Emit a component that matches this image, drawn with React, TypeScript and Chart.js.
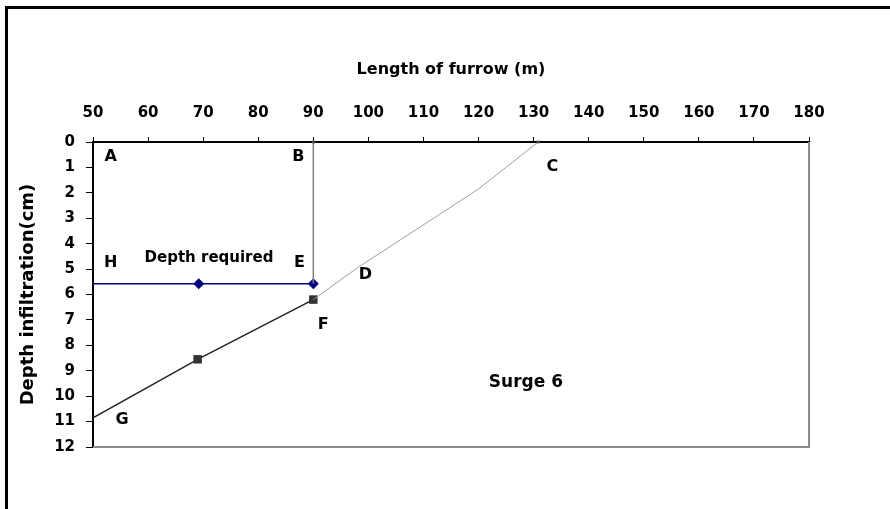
import React, { useEffect, useRef } from "react";
import { Chart, registerables } from "chart.js";

Chart.register(...registerables);

// X axis: length of furrow (m); Y axis: depth of infiltration (cm, downward)
const xTicksMin = 50;
const xTicksMax = 180;
const xTickStep = 10;
const yTicksMin = 0;
const yTicksMax = 12;
const yTickStep = 1;

// Line G-F (advance, black, square markers)
const advanceX = [50, 69, 90];
const advanceY = [10.85, 8.55, 6.2];

// Line F-D-C (grey)
const recessX = [90, 98, 109, 120, 130.8];
const recessY = [6.2, 4.95, 3.4, 1.85, 0];

// Vertical line B-E
const verticalX = [90, 90];
const verticalY = [0, 5.58];

// Depth required H-E (navy, diamond markers)
const requiredX = [50, 69.2, 90];
const requiredY = [5.58, 5.58, 5.58];

// Text annotations
const annotTexts = ["A", "B", "C", "D", "E", "F", "G", "H", "Depth required", "Surge 6"];
const annotX = [53.2, 87.3, 133.4, 99.45, 87.5, 91.8, 55.3, 53.2, 71.06, 128.6];
const annotY = [0.57, 0.57, 0.98, 5.22, 4.76, 7.19, 10.95, 4.76, 4.56, 9.46];
const annotSizes = [16, 16, 16, 16, 16, 16, 16, 16, 15, 17];

const xTitle = "Length of furrow (m)";
const yTitle = "Depth infiltration(cm)";

const FONT = "'DejaVu Sans', sans-serif";

function pts(xs: number[], ys: number[]) {
  return xs.map((x, i) => ({ x, y: ys[i] }));
}

const framePlugin = {
  id: "frameAndText",
  beforeDraw(chart: any) {
    const ctx = chart.ctx;
    ctx.save();
    ctx.fillStyle = "#ffffff";
    ctx.fillRect(0, 0, chart.width, chart.height);
    ctx.fillStyle = "#000000";
    ctx.fillRect(5, 6, 3, chart.height - 6);
    ctx.fillRect(5, 6, chart.width - 5, 3);
    ctx.restore();
  },
  afterDraw(chart: any) {
    const ctx = chart.ctx;
    const a = chart.chartArea;
    const xs = chart.scales.x;
    const ys = chart.scales.y;
    ctx.save();
    // right & bottom plot borders (grey)
    ctx.strokeStyle = "#8c8c8c";
    ctx.lineWidth = 2;
    ctx.beginPath();
    ctx.moveTo(a.right, a.top);
    ctx.lineTo(a.right, a.bottom);
    ctx.lineTo(a.left, a.bottom);
    ctx.stroke();
    // annotations
    ctx.fillStyle = "#000000";
    ctx.textAlign = "center";
    ctx.textBaseline = "middle";
    annotTexts.forEach((t, i) => {
      ctx.font = `bold ${annotSizes[i]}px ${FONT}`;
      ctx.fillText(t, xs.getPixelForValue(annotX[i]), ys.getPixelForValue(annotY[i]));
    });
    ctx.restore();
  },
};

export default function App() {
  const ref = useRef<HTMLCanvasElement | null>(null);
  useEffect(() => {
    if (!ref.current) return;
    const chart = new Chart(ref.current, {
      type: "scatter",
      data: {
        datasets: [
          {
            label: "B-E",
            data: pts(verticalX, verticalY),
            showLine: true,
            borderColor: "#808080",
            borderWidth: 1.5,
            pointRadius: [2, 0],
            pointStyle: "rect",
            pointBackgroundColor: "#555555",
            pointBorderWidth: 0,
            clip: false,
          },
          {
            label: "F-C",
            data: pts(recessX, recessY),
            showLine: true,
            borderColor: "#a0a0a0",
            borderWidth: 1,
            pointRadius: [0, 0, 0, 0, 2],
            pointStyle: "rect",
            pointBackgroundColor: "#555555",
            pointBorderWidth: 0,
            clip: false,
          },
          {
            label: "G-F",
            data: pts(advanceX, advanceY),
            showLine: true,
            borderColor: "#222222",
            borderWidth: 1.5,
            pointRadius: [0, 6, 6],
            pointStyle: "rect",
            pointBackgroundColor: "#333333",
            pointBorderColor: "#333333",
            pointBorderWidth: 0,
          },
          {
            label: "H-E",
            data: pts(requiredX, requiredY),
            showLine: true,
            borderColor: "#000080",
            borderWidth: 1.5,
            pointRadius: [0, 5.5, 5.5],
            pointStyle: "rectRot",
            pointBackgroundColor: "#000080",
            pointBorderColor: "#000080",
            pointBorderWidth: 0,
            clip: false,
          },
        ],
      },
      options: {
        animation: false,
        responsive: false,
        layout: { padding: { left: 0, top: 0, right: 81, bottom: 62 } },
        plugins: {
          legend: { display: false },
          tooltip: { enabled: false },
        },
        scales: {
          x: {
            type: "linear",
            position: "top",
            min: xTicksMin,
            max: xTicksMax,
            ticks: {
              stepSize: xTickStep,
              color: "#000",
              font: { family: FONT, weight: "bold", size: 15 },
              padding: 15,
            },
            grid: {
              drawOnChartArea: false,
              drawTicks: true,
              tickLength: 5,
              color: "#000",
              lineWidth: 1,
            },
            border: { display: true, color: "#000", width: 2 },
            title: {
              display: true,
              text: xTitle,
              color: "#000",
              font: { family: FONT, weight: "bold", size: 16 },
              padding: { top: 60, bottom: 0 },
            },
            afterFit: (s: any) => {
              s.height = 142;
            },
          },
          y: {
            type: "linear",
            reverse: true,
            min: yTicksMin,
            max: yTicksMax,
            ticks: {
              stepSize: yTickStep,
              color: "#000",
              font: { family: FONT, weight: "bold", size: 15 },
              padding: 11,
            },
            grid: {
              drawOnChartArea: false,
              drawTicks: true,
              tickLength: 7,
              color: "#000",
              lineWidth: 1,
            },
            border: { display: true, color: "#000", width: 2 },
            title: {
              display: true,
              text: yTitle,
              color: "#000",
              font: { family: FONT, weight: "bold", size: 18 },
              padding: { top: 18, bottom: 0 },
            },
            afterFit: (s: any) => {
              s.width = 93;
            },
          },
        },
      },
      plugins: [framePlugin],
    });
    return () => chart.destroy();
  }, []);
  return (
    <canvas
      ref={ref}
      width={890}
      height={509}
      style={{ position: "absolute", left: 0, top: 0, display: "block" }}
    />
  );
}
